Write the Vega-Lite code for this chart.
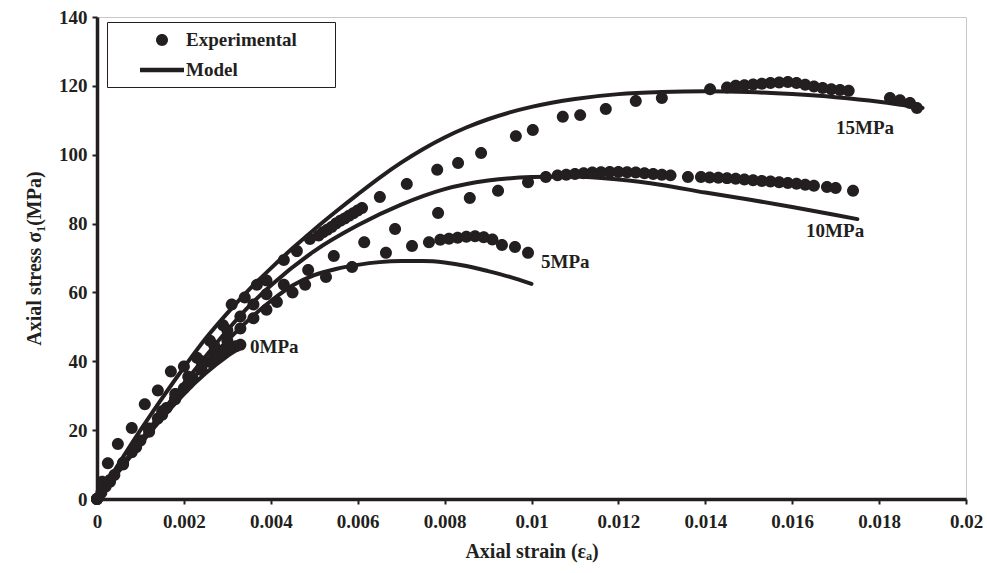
{
  "$schema": "https://vega.github.io/schema/vega-lite/v6.json",
  "width": 869,
  "height": 482,
  "autosize": "none",
  "padding": {"left": 97, "top": 17, "right": 21, "bottom": 74},
  "background": "white",
  "config": {
    "view": {"stroke": "#c8c8c8", "strokeWidth": 1},
    "font": "Liberation Serif",
    "axis": {
      "grid": false,
      "domainColor": "#231f20",
      "domainWidth": 3.5,
      "tickColor": "#231f20",
      "tickWidth": 2,
      "tickSize": 5,
      "labelFont": "Liberation Serif",
      "labelFontWeight": "bold",
      "labelFontSize": 19,
      "labelColor": "#231f20",
      "labelFlush": false,
      "labelOverlap": false,
      "titleFont": "Liberation Serif",
      "titleFontWeight": "bold",
      "titleFontSize": 20,
      "titleColor": "#231f20"
    }
  },
  "datasets": {
    "experimental": [
      {"series": "0MPa", "strain": 0, "stress": 0},
      {"series": "0MPa", "strain": 0.0001, "stress": 1.8},
      {"series": "0MPa", "strain": 0.0002, "stress": 3.6},
      {"series": "0MPa", "strain": 0.0004, "stress": 7},
      {"series": "0MPa", "strain": 0.0006, "stress": 10.4},
      {"series": "0MPa", "strain": 0.0008, "stress": 13.6},
      {"series": "0MPa", "strain": 0.001, "stress": 17},
      {"series": "0MPa", "strain": 0.0012, "stress": 20.2},
      {"series": "0MPa", "strain": 0.0014, "stress": 23.4},
      {"series": "0MPa", "strain": 0.0016, "stress": 26.4},
      {"series": "0MPa", "strain": 0.0018, "stress": 29.3},
      {"series": "0MPa", "strain": 0.002, "stress": 32.2},
      {"series": "0MPa", "strain": 0.0022, "stress": 35},
      {"series": "0MPa", "strain": 0.0024, "stress": 37.5},
      {"series": "0MPa", "strain": 0.0026, "stress": 39.8},
      {"series": "0MPa", "strain": 0.0027, "stress": 41},
      {"series": "0MPa", "strain": 0.0028, "stress": 42},
      {"series": "0MPa", "strain": 0.0029, "stress": 42.8},
      {"series": "0MPa", "strain": 0.003, "stress": 43.5},
      {"series": "0MPa", "strain": 0.0031, "stress": 44},
      {"series": "0MPa", "strain": 0.0032, "stress": 44.4},
      {"series": "0MPa", "strain": 0.0033, "stress": 44.8},

      {"series": "5MPa", "strain": 0, "stress": 0},
      {"series": "5MPa", "strain": 0.0003, "stress": 5},
      {"series": "5MPa", "strain": 0.0006, "stress": 10},
      {"series": "5MPa", "strain": 0.0009, "stress": 15},
      {"series": "5MPa", "strain": 0.0012, "stress": 19.5},
      {"series": "5MPa", "strain": 0.0015, "stress": 24.5},
      {"series": "5MPa", "strain": 0.0018, "stress": 29},
      {"series": "5MPa", "strain": 0.0021, "stress": 33.5},
      {"series": "5MPa", "strain": 0.0024, "stress": 38},
      {"series": "5MPa", "strain": 0.0027, "stress": 42},
      {"series": "5MPa", "strain": 0.003, "stress": 46},
      {"series": "5MPa", "strain": 0.0033, "stress": 49.5},
      {"series": "5MPa", "strain": 0.0036, "stress": 52.5},
      {"series": "5MPa", "strain": 0.0039, "stress": 55},
      {"series": "5MPa", "strain": 0.00414, "stress": 57.2},
      {"series": "5MPa", "strain": 0.0045, "stress": 60},
      {"series": "5MPa", "strain": 0.00479, "stress": 62.2},
      {"series": "5MPa", "strain": 0.00527, "stress": 64.5},
      {"series": "5MPa", "strain": 0.00587, "stress": 67.4},
      {"series": "5MPa", "strain": 0.00665, "stress": 71.5},
      {"series": "5MPa", "strain": 0.00725, "stress": 73.5},
      {"series": "5MPa", "strain": 0.00764, "stress": 74.6},
      {"series": "5MPa", "strain": 0.0079, "stress": 75.3},
      {"series": "5MPa", "strain": 0.0081, "stress": 75.6},
      {"series": "5MPa", "strain": 0.0083, "stress": 75.9},
      {"series": "5MPa", "strain": 0.0085, "stress": 76.2},
      {"series": "5MPa", "strain": 0.0087, "stress": 76.3},
      {"series": "5MPa", "strain": 0.0089, "stress": 76},
      {"series": "5MPa", "strain": 0.0091, "stress": 75.4},
      {"series": "5MPa", "strain": 0.00932, "stress": 73.8},
      {"series": "5MPa", "strain": 0.00962, "stress": 73.2},
      {"series": "5MPa", "strain": 0.00992, "stress": 71.5},

      {"series": "10MPa", "strain": 0, "stress": 0},
      {"series": "10MPa", "strain": 0.0003, "stress": 5.5},
      {"series": "10MPa", "strain": 0.0006, "stress": 10.5},
      {"series": "10MPa", "strain": 0.0009, "stress": 15.5},
      {"series": "10MPa", "strain": 0.0012, "stress": 20.5},
      {"series": "10MPa", "strain": 0.0015, "stress": 25.5},
      {"series": "10MPa", "strain": 0.0018, "stress": 30.5},
      {"series": "10MPa", "strain": 0.0021, "stress": 35.5},
      {"series": "10MPa", "strain": 0.0024, "stress": 40},
      {"series": "10MPa", "strain": 0.0027, "stress": 44.5},
      {"series": "10MPa", "strain": 0.003, "stress": 49},
      {"series": "10MPa", "strain": 0.0033, "stress": 53},
      {"series": "10MPa", "strain": 0.0036, "stress": 56.5},
      {"series": "10MPa", "strain": 0.0039, "stress": 59.5},
      {"series": "10MPa", "strain": 0.0043, "stress": 62.2},
      {"series": "10MPa", "strain": 0.00486, "stress": 66.5},
      {"series": "10MPa", "strain": 0.00545, "stress": 70.6},
      {"series": "10MPa", "strain": 0.00615, "stress": 74.6},
      {"series": "10MPa", "strain": 0.00686, "stress": 78.4},
      {"series": "10MPa", "strain": 0.00785, "stress": 83.1},
      {"series": "10MPa", "strain": 0.00858, "stress": 87.4},
      {"series": "10MPa", "strain": 0.00923, "stress": 89.5},
      {"series": "10MPa", "strain": 0.00992, "stress": 92},
      {"series": "10MPa", "strain": 0.01033, "stress": 93.5},
      {"series": "10MPa", "strain": 0.0106, "stress": 94},
      {"series": "10MPa", "strain": 0.0108, "stress": 94.2},
      {"series": "10MPa", "strain": 0.011, "stress": 94.4},
      {"series": "10MPa", "strain": 0.0112, "stress": 94.6},
      {"series": "10MPa", "strain": 0.0114, "stress": 94.8},
      {"series": "10MPa", "strain": 0.0116, "stress": 94.9},
      {"series": "10MPa", "strain": 0.0118, "stress": 95},
      {"series": "10MPa", "strain": 0.012, "stress": 95},
      {"series": "10MPa", "strain": 0.0122, "stress": 94.9},
      {"series": "10MPa", "strain": 0.0124, "stress": 94.8},
      {"series": "10MPa", "strain": 0.0126, "stress": 94.6},
      {"series": "10MPa", "strain": 0.0128, "stress": 94.4},
      {"series": "10MPa", "strain": 0.013, "stress": 94.2},
      {"series": "10MPa", "strain": 0.0132, "stress": 94},
      {"series": "10MPa", "strain": 0.0136, "stress": 93.5},
      {"series": "10MPa", "strain": 0.0139, "stress": 93.5},
      {"series": "10MPa", "strain": 0.0141, "stress": 93.4},
      {"series": "10MPa", "strain": 0.0143, "stress": 93.3},
      {"series": "10MPa", "strain": 0.0145, "stress": 93.2},
      {"series": "10MPa", "strain": 0.0147, "stress": 93},
      {"series": "10MPa", "strain": 0.0149, "stress": 92.8},
      {"series": "10MPa", "strain": 0.0151, "stress": 92.6},
      {"series": "10MPa", "strain": 0.0153, "stress": 92.4},
      {"series": "10MPa", "strain": 0.0155, "stress": 92.2},
      {"series": "10MPa", "strain": 0.0157, "stress": 92},
      {"series": "10MPa", "strain": 0.0159, "stress": 91.8},
      {"series": "10MPa", "strain": 0.0161, "stress": 91.6},
      {"series": "10MPa", "strain": 0.0163, "stress": 91.3},
      {"series": "10MPa", "strain": 0.0165, "stress": 91},
      {"series": "10MPa", "strain": 0.0168, "stress": 90.6},
      {"series": "10MPa", "strain": 0.017, "stress": 90.3},
      {"series": "10MPa", "strain": 0.0174, "stress": 89.5},

      {"series": "15MPa", "strain": 0, "stress": 0},
      {"series": "15MPa", "strain": 0.00012, "stress": 5},
      {"series": "15MPa", "strain": 0.00025, "stress": 10.4},
      {"series": "15MPa", "strain": 0.00048, "stress": 16},
      {"series": "15MPa", "strain": 0.0008, "stress": 20.6},
      {"series": "15MPa", "strain": 0.0011, "stress": 27.5},
      {"series": "15MPa", "strain": 0.0014, "stress": 31.5},
      {"series": "15MPa", "strain": 0.0017, "stress": 37},
      {"series": "15MPa", "strain": 0.002, "stress": 38.5},
      {"series": "15MPa", "strain": 0.0023, "stress": 41},
      {"series": "15MPa", "strain": 0.0026, "stress": 46},
      {"series": "15MPa", "strain": 0.0029, "stress": 50.5},
      {"series": "15MPa", "strain": 0.0031, "stress": 56.5},
      {"series": "15MPa", "strain": 0.0034, "stress": 58.5},
      {"series": "15MPa", "strain": 0.00368, "stress": 62.2},
      {"series": "15MPa", "strain": 0.0039, "stress": 63.5},
      {"series": "15MPa", "strain": 0.0043, "stress": 69.4},
      {"series": "15MPa", "strain": 0.0046, "stress": 72},
      {"series": "15MPa", "strain": 0.0049, "stress": 75.5},
      {"series": "15MPa", "strain": 0.0051, "stress": 76.5},
      {"series": "15MPa", "strain": 0.0052, "stress": 77.5},
      {"series": "15MPa", "strain": 0.0053, "stress": 78.2},
      {"series": "15MPa", "strain": 0.0054, "stress": 79},
      {"series": "15MPa", "strain": 0.0055, "stress": 80},
      {"series": "15MPa", "strain": 0.0056, "stress": 80.8},
      {"series": "15MPa", "strain": 0.0057, "stress": 81.5},
      {"series": "15MPa", "strain": 0.0058, "stress": 82.3},
      {"series": "15MPa", "strain": 0.0059, "stress": 83},
      {"series": "15MPa", "strain": 0.006, "stress": 83.8},
      {"series": "15MPa", "strain": 0.0061, "stress": 84.5},
      {"series": "15MPa", "strain": 0.00651, "stress": 87.7},
      {"series": "15MPa", "strain": 0.00713, "stress": 91.5},
      {"series": "15MPa", "strain": 0.00783, "stress": 95.6},
      {"series": "15MPa", "strain": 0.00831, "stress": 97.6},
      {"series": "15MPa", "strain": 0.00884, "stress": 100.5},
      {"series": "15MPa", "strain": 0.00964, "stress": 105.4},
      {"series": "15MPa", "strain": 0.01003, "stress": 107.2},
      {"series": "15MPa", "strain": 0.01072, "stress": 111},
      {"series": "15MPa", "strain": 0.01112, "stress": 111.5},
      {"series": "15MPa", "strain": 0.01171, "stress": 113.3},
      {"series": "15MPa", "strain": 0.0124, "stress": 115.6},
      {"series": "15MPa", "strain": 0.013, "stress": 116.5},
      {"series": "15MPa", "strain": 0.01411, "stress": 119},
      {"series": "15MPa", "strain": 0.0145, "stress": 119.5},
      {"series": "15MPa", "strain": 0.0147, "stress": 120},
      {"series": "15MPa", "strain": 0.0149, "stress": 120.2},
      {"series": "15MPa", "strain": 0.0151, "stress": 120.4},
      {"series": "15MPa", "strain": 0.0153, "stress": 120.6},
      {"series": "15MPa", "strain": 0.0155, "stress": 120.8},
      {"series": "15MPa", "strain": 0.0157, "stress": 121},
      {"series": "15MPa", "strain": 0.0159, "stress": 121.1},
      {"series": "15MPa", "strain": 0.0161, "stress": 120.8},
      {"series": "15MPa", "strain": 0.0163, "stress": 120.3},
      {"series": "15MPa", "strain": 0.0165, "stress": 119.8},
      {"series": "15MPa", "strain": 0.0167, "stress": 119.4},
      {"series": "15MPa", "strain": 0.0169, "stress": 119},
      {"series": "15MPa", "strain": 0.0171, "stress": 118.8},
      {"series": "15MPa", "strain": 0.0173, "stress": 118.6},
      {"series": "15MPa", "strain": 0.01825, "stress": 116.5},
      {"series": "15MPa", "strain": 0.01848, "stress": 115.8},
      {"series": "15MPa", "strain": 0.01871, "stress": 115},
      {"series": "15MPa", "strain": 0.01887, "stress": 113.6}
    ],
    "model": [
      {"series": "0MPa", "strain": 0, "stress": 0},
      {"series": "0MPa", "strain": 0.0005, "stress": 8},
      {"series": "0MPa", "strain": 0.001, "stress": 16},
      {"series": "0MPa", "strain": 0.0015, "stress": 23.5},
      {"series": "0MPa", "strain": 0.002, "stress": 30.5},
      {"series": "0MPa", "strain": 0.0025, "stress": 36.5},
      {"series": "0MPa", "strain": 0.003, "stress": 41.5},
      {"series": "0MPa", "strain": 0.0033, "stress": 44},

      {"series": "5MPa", "strain": 0, "stress": 0},
      {"series": "5MPa", "strain": 0.001, "stress": 16.5},
      {"series": "5MPa", "strain": 0.002, "stress": 32},
      {"series": "5MPa", "strain": 0.003, "stress": 46},
      {"series": "5MPa", "strain": 0.004, "stress": 57.5},
      {"series": "5MPa", "strain": 0.0045, "stress": 62},
      {"series": "5MPa", "strain": 0.005, "stress": 65},
      {"series": "5MPa", "strain": 0.0055, "stress": 66.8},
      {"series": "5MPa", "strain": 0.006, "stress": 68},
      {"series": "5MPa", "strain": 0.0065, "stress": 68.8},
      {"series": "5MPa", "strain": 0.007, "stress": 69.1},
      {"series": "5MPa", "strain": 0.0075, "stress": 69.1},
      {"series": "5MPa", "strain": 0.008, "stress": 68.7},
      {"series": "5MPa", "strain": 0.0085, "stress": 67.7},
      {"series": "5MPa", "strain": 0.009, "stress": 66.2},
      {"series": "5MPa", "strain": 0.0095, "stress": 64.5},
      {"series": "5MPa", "strain": 0.01, "stress": 62.5},

      {"series": "10MPa", "strain": 0, "stress": 0},
      {"series": "10MPa", "strain": 0.001, "stress": 17},
      {"series": "10MPa", "strain": 0.002, "stress": 33.5},
      {"series": "10MPa", "strain": 0.003, "stress": 49},
      {"series": "10MPa", "strain": 0.0035, "stress": 56},
      {"series": "10MPa", "strain": 0.004, "stress": 62},
      {"series": "10MPa", "strain": 0.005, "stress": 72},
      {"series": "10MPa", "strain": 0.006, "stress": 79.5},
      {"series": "10MPa", "strain": 0.007, "stress": 85.5},
      {"series": "10MPa", "strain": 0.008, "stress": 90},
      {"series": "10MPa", "strain": 0.009, "stress": 92.5},
      {"series": "10MPa", "strain": 0.01, "stress": 93.5},
      {"series": "10MPa", "strain": 0.011, "stress": 93.7},
      {"series": "10MPa", "strain": 0.012, "stress": 92.8},
      {"series": "10MPa", "strain": 0.013, "stress": 91.2},
      {"series": "10MPa", "strain": 0.014, "stress": 89},
      {"series": "10MPa", "strain": 0.015, "stress": 87},
      {"series": "10MPa", "strain": 0.016, "stress": 84.8},
      {"series": "10MPa", "strain": 0.017, "stress": 82.5},
      {"series": "10MPa", "strain": 0.0175, "stress": 81.3},

      {"series": "15MPa", "strain": 0, "stress": 0},
      {"series": "15MPa", "strain": 0.0005, "stress": 10.2},
      {"series": "15MPa", "strain": 0.001, "stress": 20},
      {"series": "15MPa", "strain": 0.0015, "stress": 29.3},
      {"series": "15MPa", "strain": 0.002, "stress": 38.2},
      {"series": "15MPa", "strain": 0.0025, "stress": 46.6},
      {"series": "15MPa", "strain": 0.003, "stress": 54},
      {"series": "15MPa", "strain": 0.0035, "stress": 60.8},
      {"series": "15MPa", "strain": 0.004, "stress": 67},
      {"series": "15MPa", "strain": 0.0045, "stress": 72.8},
      {"series": "15MPa", "strain": 0.005, "stress": 78.3},
      {"series": "15MPa", "strain": 0.0055, "stress": 83.5},
      {"series": "15MPa", "strain": 0.006, "stress": 88.5},
      {"series": "15MPa", "strain": 0.0065, "stress": 93.3},
      {"series": "15MPa", "strain": 0.007, "stress": 97.7},
      {"series": "15MPa", "strain": 0.0075, "stress": 101.6},
      {"series": "15MPa", "strain": 0.008, "stress": 105},
      {"series": "15MPa", "strain": 0.0085, "stress": 107.9},
      {"series": "15MPa", "strain": 0.009, "stress": 110.3},
      {"series": "15MPa", "strain": 0.0095, "stress": 112.3},
      {"series": "15MPa", "strain": 0.01, "stress": 113.9},
      {"series": "15MPa", "strain": 0.011, "stress": 116.2},
      {"series": "15MPa", "strain": 0.012, "stress": 117.6},
      {"series": "15MPa", "strain": 0.013, "stress": 118.2},
      {"series": "15MPa", "strain": 0.014, "stress": 118.4},
      {"series": "15MPa", "strain": 0.015, "stress": 118.2},
      {"series": "15MPa", "strain": 0.016, "stress": 117.6},
      {"series": "15MPa", "strain": 0.017, "stress": 116.7},
      {"series": "15MPa", "strain": 0.018, "stress": 115.4},
      {"series": "15MPa", "strain": 0.019, "stress": 113.6}
    ],
    "annotations": [
      {"label": "0MPa", "strain": 0.00352, "stress": 44.2},
      {"label": "5MPa", "strain": 0.01022, "stress": 68.8},
      {"label": "10MPa", "strain": 0.01632, "stress": 77.8},
      {"label": "15MPa", "strain": 0.01701, "stress": 107.8}
    ]
  },
  "layer": [
    {
      "data": {"name": "model"},
      "mark": {"type": "line", "color": "#231f20", "strokeWidth": 4, "interpolate": "monotone", "strokeCap": "round", "strokeJoin": "round"},
      "encoding": {
        "x": {
          "field": "strain", "type": "quantitative",
          "scale": {"domain": [0, 0.02], "nice": false, "zero": false},
          "axis": {
            "title": "Axial strain (εₐ)",
            "values": [0, 0.002, 0.004, 0.006, 0.008, 0.01, 0.012, 0.014, 0.016, 0.018, 0.02],
            "format": "~r",
            "labelPadding": 8,
            "titlePadding": 10
          }
        },
        "y": {
          "field": "stress", "type": "quantitative",
          "scale": {"domain": [0, 140], "nice": false},
          "axis": {
            "title": "Axial stress σ₁(MPa)",
            "values": [0, 20, 40, 60, 80, 100, 120, 140],
            "labelPadding": 5,
            "titlePadding": 14
          }
        },
        "detail": {"field": "series", "type": "nominal"}
      }
    },
    {
      "data": {"name": "experimental"},
      "mark": {"type": "point", "filled": true, "color": "#231f20", "opacity": 1, "size": 484, "strokeWidth": 0},
      "encoding": {
        "x": {"field": "strain", "type": "quantitative"},
        "y": {"field": "stress", "type": "quantitative"},
        "detail": {"field": "series", "type": "nominal"},
        "shape": {
          "datum": "Experimental",
          "type": "nominal",
          "scale": {
            "domain": ["Experimental", "Model"],
            "range": [
              "M-0.545,0a0.545,0.545 0 1,0 1.09,0a0.545,0.545 0 1,0 -1.09,0Z",
              "M-2,-0.21H2V0.21H-2Z"
            ]
          },
          "legend": {
            "title": "\u00a0",
            "titleOrient": "right",
            "titlePadding": 31,
            "titleFontSize": 19,
            "orient": "none",
            "legendX": 10,
            "legendY": 5,
            "padding": 7,
            "strokeColor": "#231f20",
            "fillColor": "white",
            "symbolSize": 484,
            "symbolOffset": 37,
            "symbolFillColor": "#231f20",
            "symbolStrokeWidth": 0,
            "labelOffset": 13,
            "labelFont": "Liberation Serif",
            "labelFontWeight": "bold",
            "labelFontSize": 19,
            "labelColor": "#231f20",
            "rowPadding": 9,
            "encode": {
              "legend": {"update": {"strokeWidth": {"value": 1.5}}},
              "symbols": {"update": {"fill": {"value": "#231f20"}, "stroke": {"value": "transparent"}}}
            }
          }
        }
      }
    },
    {
      "data": {"name": "annotations"},
      "mark": {"type": "text", "align": "left", "baseline": "middle", "font": "Liberation Serif", "fontWeight": "bold", "fontSize": 19, "color": "#231f20"},
      "encoding": {
        "x": {"field": "strain", "type": "quantitative"},
        "y": {"field": "stress", "type": "quantitative"},
        "text": {"field": "label", "type": "nominal"}
      }
    }
  ]
}
